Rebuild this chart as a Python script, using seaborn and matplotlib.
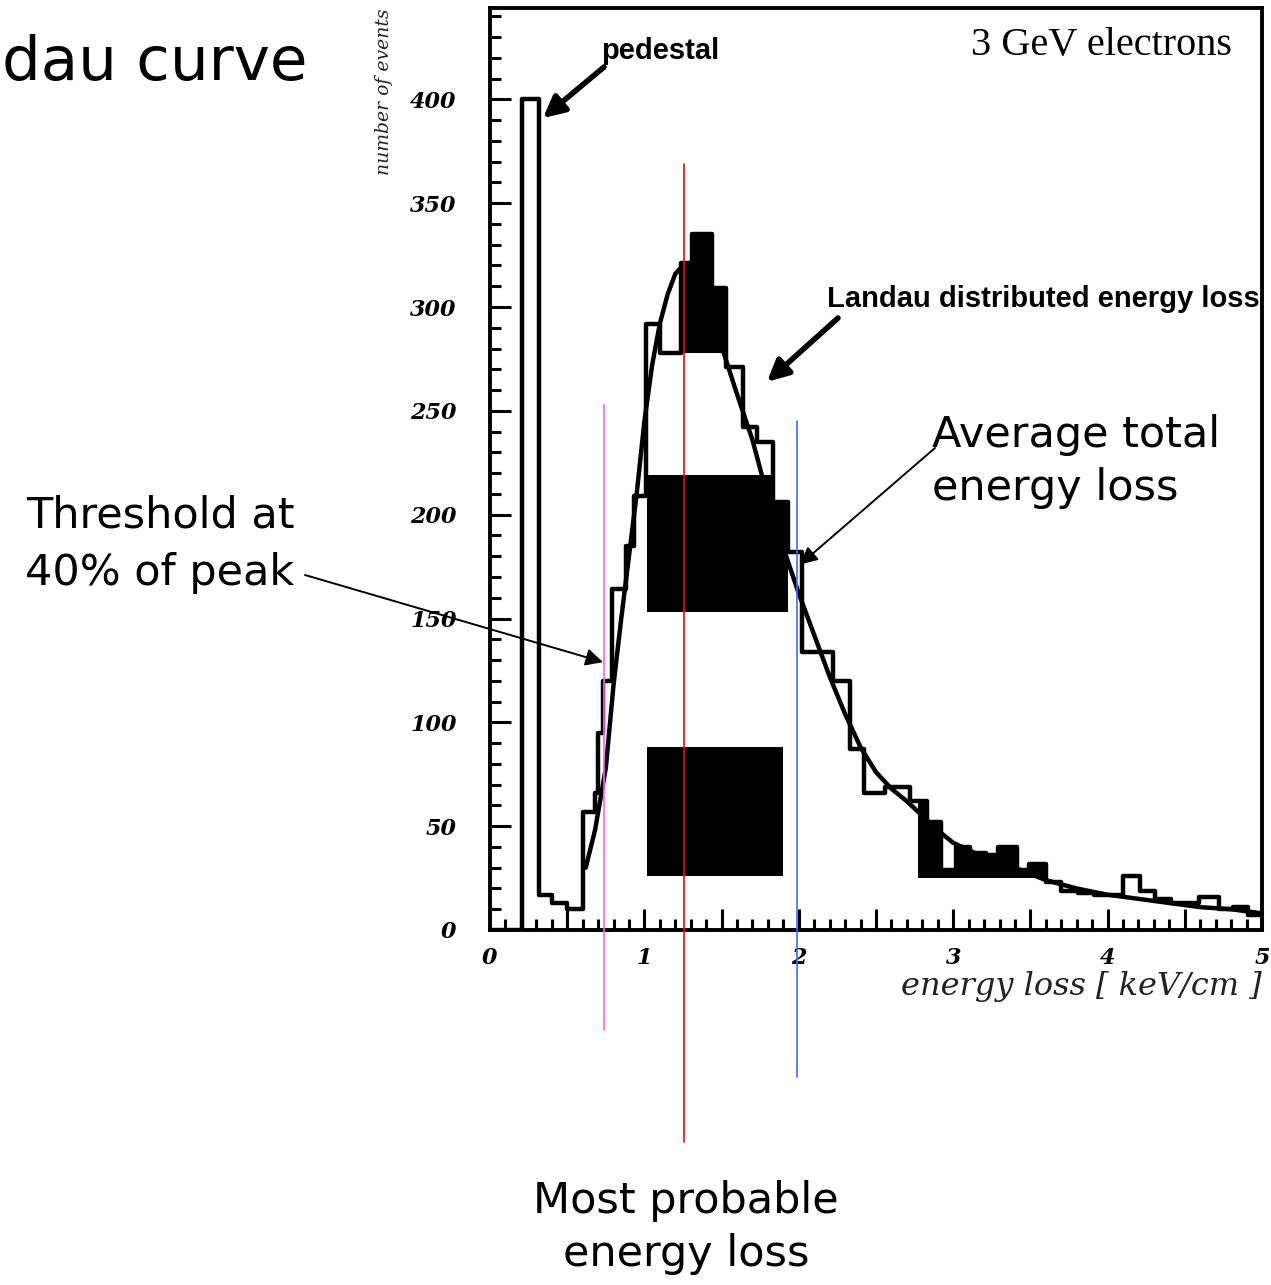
import numpy as np
import pandas as pd
import matplotlib
matplotlib.use("Agg")
import matplotlib.pyplot as plt
import seaborn as sns
from matplotlib.ticker import MultipleLocator, FuncFormatter

# ---------------- data ----------------
bin_edges = [0.00, 0.21, 0.32, 0.40, 0.50, 0.60, 0.68, 0.70, 0.73, 0.79, 0.88,
             0.93, 1.01, 1.10, 1.24, 1.31, 1.44, 1.53, 1.64, 1.73, 1.83,
             1.93, 2.02, 2.22, 2.33, 2.42, 2.56, 2.72, 2.83, 2.92, 3.02,
             3.11, 3.21, 3.29, 3.41, 3.49, 3.60, 3.70, 3.81, 3.91, 4.10,
             4.21, 4.31, 4.41, 4.59, 4.72, 4.81, 4.91, 5.00]
counts = [0, 400, 17, 13, 10, 57, 66, 95, 120, 164,
          185, 209, 292, 278, 321, 335, 309, 271, 242, 235,
          206, 182, 134, 120, 87, 66, 69, 62, 52, 29,
          40, 37, 36, 40, 29, 32, 23, 19, 18, 17,
          26, 19, 15, 13, 16, 10, 11, 7]

landau_x = [0.62, 0.68, 0.75, 0.80, 0.85, 0.90, 0.95, 1.00, 1.05, 1.10, 1.15,
            1.20, 1.25, 1.30, 1.35, 1.40, 1.45, 1.50, 1.60, 1.70, 1.80, 1.90,
            2.00, 2.10, 2.20, 2.30, 2.40, 2.50, 2.60, 2.70, 2.80, 2.90, 3.00,
            3.20, 3.40, 3.60, 3.80, 4.00, 4.20, 4.40, 4.60, 4.80, 5.00]
landau_y = [30, 48, 78, 118, 150, 180, 210, 245, 272, 292, 306,
            316, 320, 318, 312, 303, 292, 281, 258, 236, 208, 184,
            162, 142, 122, 104, 88, 76, 68, 62, 55, 48, 42,
            35, 30, 24, 20, 17, 15, 13, 11, 10, 8]

# solid black blotches present in the scanned figure
blot_left = [1.24, 1.31, 1.44, 1.02, 1.83, 1.02, 2.77, 2.83, 2.92, 3.02, 3.11,
             3.21, 3.29, 3.41, 3.49]
blot_right = [1.31, 1.44, 1.53, 1.83, 1.93, 1.90, 2.83, 2.92, 3.02, 3.11, 3.21,
              3.29, 3.41, 3.49, 3.60]
blot_bottom = [278, 278, 278, 153, 153, 26, 25, 25, 25, 25, 25, 25, 25, 25, 25]
blot_top = [321, 335, 309, 219, 206, 88, 62, 52, 29, 40, 37, 36, 40, 29, 32]

marker_names = ["threshold", "most probable", "average"]
marker_x = [0.738, 1.256, 1.988]
marker_top = [253, 369, 245]
marker_bottom = [-48, -102, -71]
marker_colors = ["#ff5cff", "#ff0000", "#3d6bff"]

x_ticklabels = ["0", "1", "2", "3", "4", "5"]
y_ticklabels = ["0", "50", "100", "150", "200", "250", "300", "350", "400"]

# ---------------- figure ----------------
sns.set_theme(style="white")
plt.rcParams["font.family"] = ["DejaVu Sans"]

W, H = 1271, 1285
fig = plt.figure(figsize=(W / 100, H / 100), dpi=100)
ax = fig.add_axes([490 / W, 1 - 930 / H, (1262 - 490) / W, (930 - 8) / H])


def fx(px):
    return px / W


def fy(py):
    return 1 - py / H


edges = np.array(bin_edges)
centers = (edges[:-1] + edges[1:]) / 2
df = pd.DataFrame({"x": centers, "w": counts})

# blotches
bl = np.array(blot_left)
br = np.array(blot_right)
bb = np.array(blot_bottom)
bt = np.array(blot_top)
ax.bar(bl, bt - bb, width=br - bl, bottom=bb, align="edge", color="black",
       linewidth=0, zorder=2)

sns.histplot(data=df, x="x", weights="w", bins=bin_edges, element="step",
             fill=False, color="black", linewidth=3.2, ax=ax, zorder=3)
sns.lineplot(x=landau_x, y=landau_y, color="black", linewidth=3.2, ax=ax,
             zorder=3, sort=False)

ax.set_xlim(0, 5)
ax.set_ylim(0, 444)
ax.set_xlabel("")
ax.set_ylabel("")

for s in ax.spines.values():
    s.set_visible(True)
    s.set_color("black")
    s.set_linewidth(2.8)

ax.xaxis.set_major_locator(MultipleLocator(0.5))
ax.xaxis.set_minor_locator(MultipleLocator(0.1))
ax.yaxis.set_major_locator(MultipleLocator(50))
ax.yaxis.set_minor_locator(MultipleLocator(10))


def xfmt(v, p):
    if abs(v - round(v)) < 1e-6 and 0 <= round(v) < len(x_ticklabels):
        return x_ticklabels[int(round(v))]
    return ""


def yfmt(v, p):
    i = int(round(v / 50))
    if abs(v - i * 50) < 1e-6 and 0 <= i < len(y_ticklabels):
        return y_ticklabels[i]
    return ""


ax.xaxis.set_major_formatter(FuncFormatter(xfmt))
ax.yaxis.set_major_formatter(FuncFormatter(yfmt))
ax.tick_params(axis="both", which="both", direction="in", color="black",
               bottom=True, left=True, top=False, right=False)
ax.tick_params(axis="both", which="major", length=15, width=2.2)
ax.tick_params(axis="both", which="minor", length=8, width=2.2)
ax.tick_params(axis="x", which="major", pad=12)
ax.tick_params(axis="y", which="major", pad=24)
for lab in ax.get_xticklabels() + ax.get_yticklabels():
    lab.set_fontfamily("DejaVu Serif")
    lab.set_fontstyle("italic")
    lab.set_fontweight("bold")
    lab.set_fontsize(16)
    lab.set_color("black")

# coloured marker lines (extend below the axes)
for mx, mt, mb, mc in zip(marker_x, marker_top, marker_bottom, marker_colors):
    ax.plot([mx, mx], [mb, mt], color=mc, linewidth=1.2, clip_on=False, zorder=6)

# axis titles
fig.text(fx(1262), fy(986), "energy loss [ keV/cm ]", ha="right", va="center",
         fontsize=23, family="DejaVu Serif", style="italic", color="#222222")
fig.text(fx(384), fy(92), "number of events", ha="center", va="center",
         rotation=90, fontsize=13.5, family="DejaVu Serif", style="italic",
         color="#222222")

# in-plot labels
fig.text(fx(1232), fy(46), "3 GeV electrons", ha="right", va="center",
         fontsize=29, family="Liberation Serif", color="black")
fig.text(fx(601), fy(51), "pedestal", ha="left", va="center", fontsize=21,
         family="Liberation Sans", weight="bold", color="black")
fig.text(fx(1260), fy(299), "Landau distributed energy loss", ha="right",
         va="center", fontsize=21, family="Liberation Sans", weight="bold",
         color="black")

ax.annotate("", xy=(0.343, 391), xycoords="data",
            xytext=(604, H - 67), textcoords="figure pixels",
            arrowprops=dict(arrowstyle="-|>", color="black", lw=4,
                            mutation_scale=32, shrinkA=0, shrinkB=0),
            annotation_clip=False, zorder=7)
ax.annotate("", xy=(1.794, 264), xycoords="data",
            xytext=(838, H - 318), textcoords="figure pixels",
            arrowprops=dict(arrowstyle="-|>", color="black", lw=4,
                            mutation_scale=32, shrinkA=0, shrinkB=0),
            annotation_clip=False, zorder=7)

# slide annotations
anno_font = dict(family="DejaVu Sans", color="black")
fig.text(fx(2), fy(80), "dau curve", ha="left", va="baseline",
         fontsize=44, **anno_font)
fig.text(fx(160), fy(527), "Threshold at", ha="center", va="baseline",
         fontsize=31, **anno_font)
fig.text(fx(160), fy(585), "40% of peak", ha="center", va="baseline",
         fontsize=31, **anno_font)
fig.text(fx(932), fy(447), "Average total", ha="left", va="baseline",
         fontsize=31, **anno_font)
fig.text(fx(932), fy(500), "energy loss", ha="left", va="baseline",
         fontsize=31, **anno_font)
fig.text(fx(686), fy(1213), "Most probable", ha="center", va="baseline",
         fontsize=31, **anno_font)
fig.text(fx(686), fy(1266), "energy loss", ha="center", va="baseline",
         fontsize=31, **anno_font)

ax.annotate("", xy=(0.732, 129), xycoords="data",
            xytext=(305, H - 575), textcoords="figure pixels",
            arrowprops=dict(arrowstyle="-|>", color="black", lw=1.4,
                            mutation_scale=26, shrinkA=0, shrinkB=0),
            annotation_clip=False, zorder=7)
ax.annotate("", xy=(2.008, 176), xycoords="data",
            xytext=(935, H - 448), textcoords="figure pixels",
            arrowprops=dict(arrowstyle="-|>", color="black", lw=1.4,
                            mutation_scale=26, shrinkA=0, shrinkB=0),
            annotation_clip=False, zorder=7)

fig.savefig("out.png", dpi=100, facecolor="white")
